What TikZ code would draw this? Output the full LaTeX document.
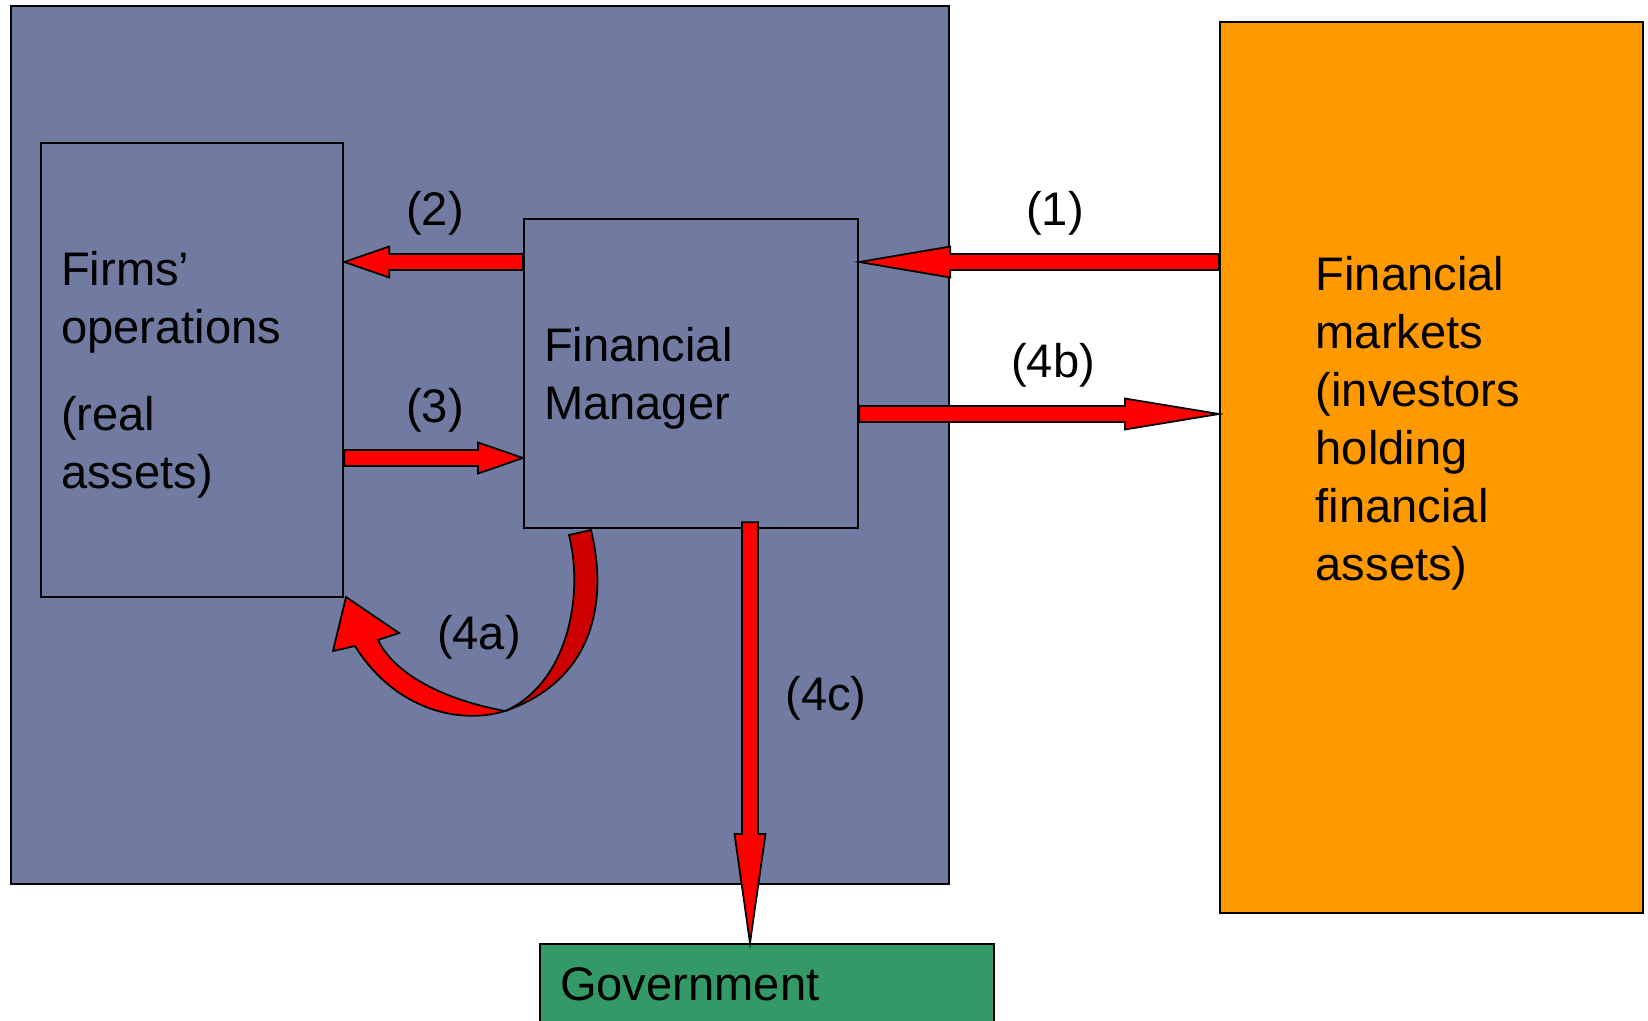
\documentclass[tikz,border=0pt]{standalone}
\usepackage{fontspec}
\setmainfont{Liberation Sans}
\usetikzlibrary{positioning,calc}

\definecolor{firmblue}{RGB}{113,123,161}
\definecolor{mktorange}{RGB}{255,153,0}
\definecolor{govgreen}{RGB}{51,153,102}
\definecolor{darkred}{RGB}{204,0,0}

\begin{document}
\begin{tikzpicture}[
    x=0.01cm, y=-0.01cm,
    font=\fontsize{13.4}{16.5}\selectfont,
    box/.style={draw, line width=.6pt, shape=rectangle, anchor=north west, inner sep=0pt},
    boxtext/.style={align=left, inner xsep=.2cm, text width=#1},
    flow/.style={fill=red, draw=black, line width=.5pt, line join=miter,
      to path={let \p1=(\tikztostart), \p2=(\tikztotarget),
        \n1={atan2(\y2-\y1,\x2-\x1)} in
        ($(\p1)+(\n1+90:.08cm)$) -- ($(\p2)+(\n1:-#1)+(\n1+90:.08cm)$)
        -- ($(\p2)+(\n1:-#1)+(\n1+90:.155cm)$) -- (\p2)
        -- ($(\p2)+(\n1:-#1)+(\n1-90:.155cm)$) -- ($(\p2)+(\n1:-#1)+(\n1-90:.08cm)$)
        -- ($(\p1)+(\n1-90:.08cm)$) -- cycle}}]
  \useasboundingbox (0,0) rectangle (1648,1021);
  \clip (0,0) rectangle (1648,1021);

  % the firm, the markets and the government
  \node[box, fill=firmblue, minimum width=9.375cm, minimum height=8.77cm] (firm) at (9.5,5) {};
  \node[box, fill=mktorange, minimum width=4.23cm, minimum height=8.9cm] (mkt) at (1219,21) {};
  \node[align=left, inner sep=0pt, anchor=north west] (mkt-text) at (1315,256)
    {Financial\\markets\\(investors\\holding\\financial\\assets)};
  \node[box, boxtext=4.14cm, fill=govgreen, minimum height=.8cm] (gov) at (539,943) {Government};

  \node[box, boxtext=2.62cm, fill=firmblue, minimum height=4.54cm] (ops) at (40,142)
    {\rule{0pt}{.44cm}Firms’\\operations\\[.29cm](real\\assets)};
  \node[box, boxtext=2.94cm, fill=firmblue, minimum height=3.09cm] (fm) at (523,218)
    {\rule{0pt}{.44cm}Financial\\Manager};

  % levels of the flows
  \coordinate (lvl-a) at (0,262);
  \coordinate (lvl-b) at (0,414);
  \coordinate (lvl-c) at (0,458);
  \coordinate (lvl-d) at (750,0);

  \path[flow=.91cm] (mkt.west |- lvl-a) to (fm.east |- lvl-a);
  \path[flow=.45cm] (fm.west |- lvl-a) to (ops.east |- lvl-a);
  \path[flow=.45cm] (ops.east |- lvl-c) to (fm.west |- lvl-c);
  \path[flow=.94cm] (fm.east |- lvl-b) to (mkt.west |- lvl-b);
  \path[flow=1.09cm] ($(fm.south -| lvl-d)+(0,-7)$) to (gov.north -| lvl-d);

  % (4a) goes back into the operations
  \path[fill=darkred, draw=black, line width=.5pt] (569,535) -- (591,530)
    .. controls (608,600) and (595,680) .. (505,711)
    .. controls (565,685) and (585,600) .. (569,535) -- cycle;
  \path[fill=red, draw=black, line width=.5pt] (346,597) -- (399,633) -- (378,640)
    .. controls (395,675) and (445,700) .. (505,711)
    .. controls (460,725) and (395,710) .. (355,646) -- (333,651) -- cycle;

  \node (lbl-1) at (1055,213) {(1)};
  \node (lbl-2) at (435,213) {(2)};
  \node (lbl-3) at (435,410) {(3)};
  \node (lbl-4a) at (479,637) {(4a)};
  \node (lbl-4b) at (1053,365) {(4b)};
  \node (lbl-4c) at (826,698) {(4c)};
\end{tikzpicture}
\end{document}
